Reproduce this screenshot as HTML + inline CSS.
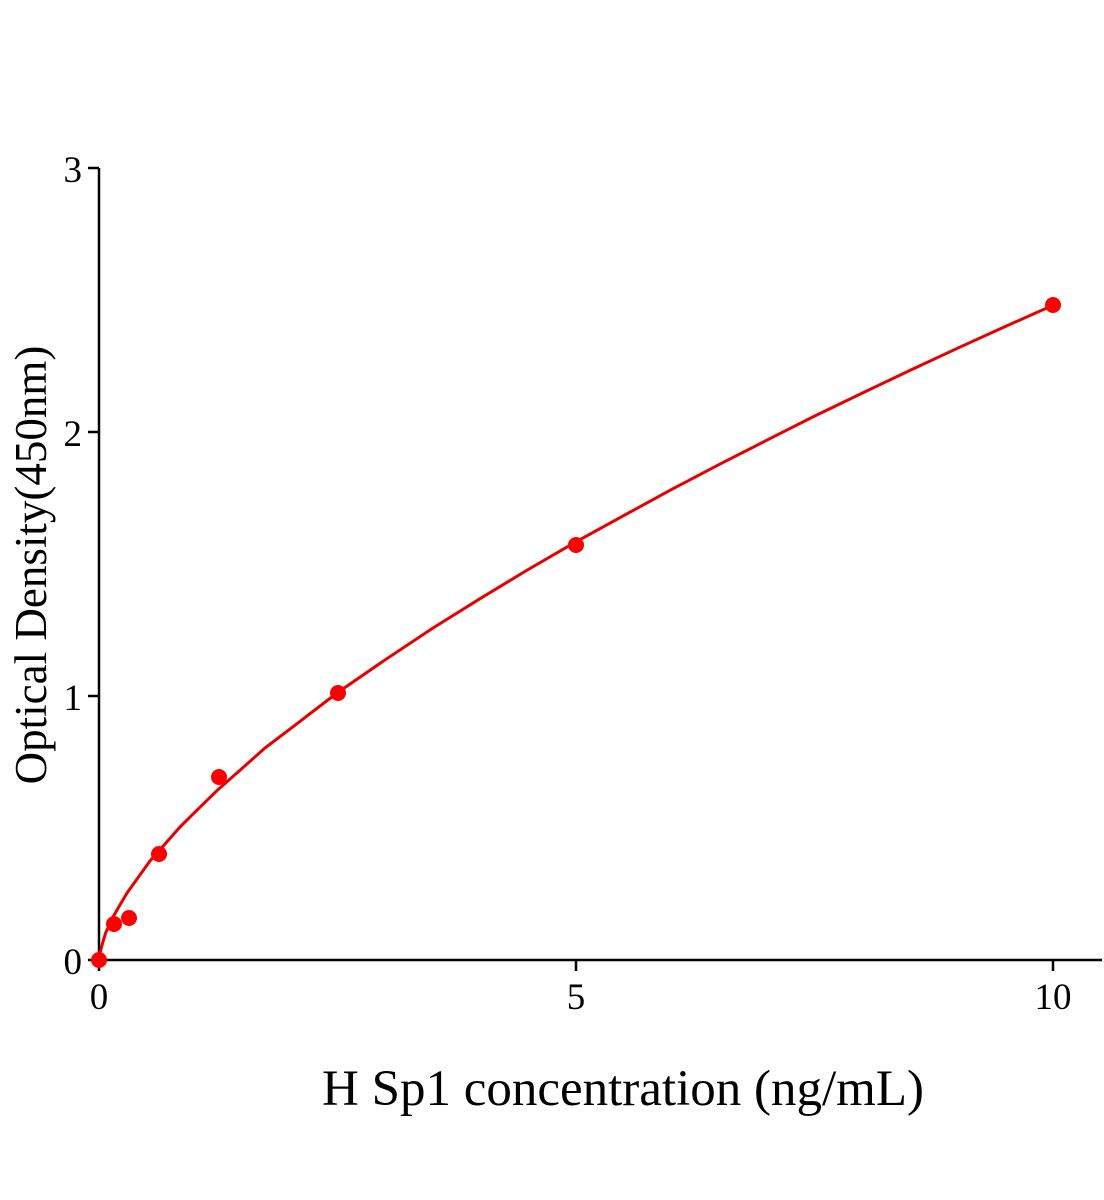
<!DOCTYPE html>
<html><head><meta charset="utf-8"><style>html,body{margin:0;padding:0;background:#fff}svg{display:block}</style></head>
<body>
<svg width="1104" height="1200" xmlns="http://www.w3.org/2000/svg" font-family="'Liberation Serif', serif">
<rect width="1104" height="1200" fill="#fff"/>
<g stroke="#000" stroke-width="2.5" fill="none">
<line x1="99" y1="168" x2="99" y2="961"/>
<line x1="98" y1="960" x2="1102" y2="960"/>
<line x1="88" y1="168" x2="99" y2="168"/>
<line x1="88" y1="432" x2="99" y2="432"/>
<line x1="88" y1="696" x2="99" y2="696"/>
<line x1="88" y1="960" x2="99" y2="960"/>
<line x1="99" y1="960" x2="99" y2="971"/>
<line x1="576" y1="960" x2="576" y2="971"/>
<line x1="1053" y1="960" x2="1053" y2="971"/>
</g>
<g font-size="37" fill="#000" text-anchor="end">
<text x="82" y="182">3</text>
<text x="82" y="446">2</text>
<text x="82" y="710">1</text>
<text x="82" y="974">0</text>
</g>
<g font-size="37" fill="#000" text-anchor="middle">
<text x="99" y="1009">0</text>
<text x="576" y="1009">5</text>
<text x="1053" y="1009">10</text>
</g>
<text x="623" y="1105" font-size="51" text-anchor="middle" fill="#000">H Sp1 concentration (ng/mL)</text>
<text transform="translate(46,565) rotate(-90)" font-size="45" text-anchor="middle" fill="#000">Optical Density(450nm)</text>
<polyline fill="none" stroke="#e80000" stroke-width="3" stroke-linejoin="round" points="99,960 100,954 101,949 103.8,938.8 106,932 108.5,926.9 113,917 118.1,908.1 127,893 137.2,878.7 150,861 165.8,843.1 180,827 194.4,812.7 218,789.6 242.1,768.4 265,748 289.8,729.2 337,693 385.2,659.8 433,628 480.6,598.3 528,569.6 576,541.8 624,515.4 671.4,489.6 719,464.6 766.8,440.2 814,416.4 862.2,393.1 910,370.4 957.6,348.2 1005,326.6 1053,305.3"/>
<g fill="#f00">
<circle cx="99" cy="960" r="8"/>
<circle cx="114" cy="924" r="8"/>
<circle cx="129" cy="918" r="8"/>
<circle cx="159" cy="854" r="8"/>
<circle cx="219" cy="777" r="8"/>
<circle cx="338" cy="693" r="8"/>
<circle cx="576" cy="545" r="8"/>
<circle cx="1053" cy="305" r="8"/>
</g>
</svg>
</body></html>
